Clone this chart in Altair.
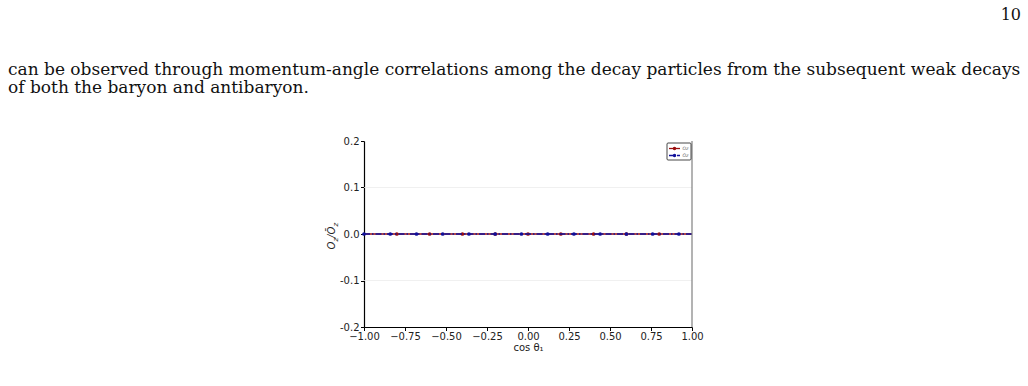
import altair as alt
import pandas as pd

# Page text around the figure
page_number = "10"
page_lines = [
    "can be observed through momentum-angle correlations among the decay particles from the subsequent weak decays",
    "of both the baryon and antibaryon.",
]

# Series: ratio O_z / O_z-bar versus cos(theta_1)
red_cos = [-1.0, -0.8, -0.6, -0.4, -0.2, 0.0, 0.2, 0.4, 0.6, 0.8, 1.0]
red_ratio = [0.0, 0.0, 0.0, 0.0, 0.0, 0.0, 0.0, 0.0, 0.0, 0.0, 0.0]
red_marked = [False, True, True, True, True, True, True, True, True, True, False]

blue_cos = [-1.0, -0.84, -0.68, -0.52, -0.36, -0.2, -0.04, 0.12, 0.28, 0.44, 0.6, 0.76, 0.92, 1.0]
blue_ratio = [0.0, 0.0, 0.0, 0.0, 0.0, 0.0, 0.0, 0.0, 0.0, 0.0, 0.0, 0.0, 0.0, 0.0]
blue_marked = [True, True, True, True, True, True, True, True, True, True, True, True, True, False]

x_ticks = [-1.0, -0.75, -0.5, -0.25, 0.0, 0.25, 0.5, 0.75, 1.0]
y_ticks = [-0.2, -0.1, 0.0, 0.1, 0.2]
grid_vals = [-0.1, 0.0, 0.1]
legend_labels = ["Oz", "Ōz"]

RED = "#9a0e0e"
BLUE = "#10109a"
W, H = 328, 186

red_df = pd.DataFrame({"c": red_cos, "r": red_ratio, "m": red_marked})
blue_df = pd.DataFrame({"c": blue_cos, "r": blue_ratio, "m": blue_marked})

xs = alt.Scale(domain=[-1, 1], nice=False)
ys = alt.Scale(domain=[-0.2, 0.2], nice=False)

x_axis = alt.Axis(
    values=x_ticks, format=".2f", title="cos θ₁", grid=False,
    domainColor="#000", domainWidth=1.2, tickColor="#000", tickSize=3.5,
    labelFont="DejaVu Sans", labelFontSize=10, labelColor="#222", labelPadding=1,
    labelFlush=False, titleFont="DejaVu Sans", titleFontSize=10,
    titleFontWeight="normal", titleColor="#222", titlePadding=1,
)
y_axis = alt.Axis(
    values=y_ticks, title=None, grid=False,
    labelExpr="replace(format(datum.value, '.1f'), '\u2212', '-')",
    domainColor="#000", domainWidth=1.2, tickColor="#000", tickSize=3.5,
    labelFont="DejaVu Sans", labelFontSize=10, labelColor="#222", labelPadding=1.5,
)

grid = alt.Chart(pd.DataFrame({"g": grid_vals})).mark_rule(
    color="#ececec", strokeWidth=0.8
).encode(y=alt.Y("g:Q", scale=ys, axis=y_axis))

red_line = alt.Chart(red_df).mark_line(color=RED, strokeWidth=1.4, clip=True).encode(
    x=alt.X("c:Q", scale=xs, axis=x_axis), y=alt.Y("r:Q", scale=ys, axis=y_axis)
)
red_pts = alt.Chart(red_df).transform_filter("datum.m").mark_point(
    shape="circle", filled=True, size=14, color=RED, opacity=1
).encode(x=alt.X("c:Q", scale=xs, axis=x_axis), y=alt.Y("r:Q", scale=ys, axis=y_axis))

blue_line = alt.Chart(blue_df).mark_line(
    color=BLUE, strokeWidth=1.4, strokeDash=[6, 2, 1.5, 2], clip=True
).encode(x=alt.X("c:Q", scale=xs, axis=x_axis), y=alt.Y("r:Q", scale=ys, axis=y_axis))
blue_pts = alt.Chart(blue_df).transform_filter("datum.m").mark_point(
    shape="circle", filled=True, size=14, color=BLUE, opacity=1
).encode(x=alt.X("c:Q", scale=xs, axis=x_axis), y=alt.Y("r:Q", scale=ys, axis=y_axis))

one = pd.DataFrame({"k": [0]})


def label(text, x, y, **style):
    """A single piece of text placed in pixel space around the plot area."""
    return alt.Chart(pd.DataFrame({"t": [text]})).mark_text(**style).encode(
        text="t:N", x=alt.value(x), y=alt.value(y)
    )


right_spine = alt.Chart(one).mark_rule(color="#808080", strokeWidth=1.2).encode(
    x=alt.value(W), y=alt.value(0), y2=alt.value(H)
)

# Legend box
leg_box = alt.Chart(one).mark_rect(
    fill="white", stroke="#333", strokeWidth=0.9, cornerRadius=1
).encode(x=alt.value(303), x2=alt.value(327), y=alt.value(2), y2=alt.value(19))
leg_red_line = alt.Chart(one).mark_rule(color=RED, strokeWidth=1.3).encode(
    x=alt.value(305), x2=alt.value(316), y=alt.value(7.5)
)
leg_blue_line = alt.Chart(one).mark_rule(
    color=BLUE, strokeWidth=1.3, strokeDash=[4, 1.5, 1, 1.5]
).encode(x=alt.value(305), x2=alt.value(316), y=alt.value(14.5))
leg_red_pt = alt.Chart(one).mark_point(shape="circle", filled=True, size=12, color=RED, opacity=1).encode(
    x=alt.value(310.5), y=alt.value(7.5)
)
leg_blue_pt = alt.Chart(one).mark_point(shape="circle", filled=True, size=12, color=BLUE, opacity=1).encode(
    x=alt.value(310.5), y=alt.value(14.5)
)
leg_style = dict(font="DejaVu Sans", fontSize=4.5, fontStyle="italic", color="#666",
                 align="left", baseline="middle")
leg_texts = [label(legend_labels[0], 318.5, 7.5, **leg_style),
             label(legend_labels[1], 318.5, 14.5, **leg_style)]

# Rotated y-axis title O_z / O-bar_z, built from pieces so the z's sit as subscripts
pieces = [("O", 10, 7.9, False), ("z", 7, 3.7, True), ("/", 10, 3.4, False),
          ("Ō", 10, 7.9, False), ("z", 7, 3.7, True)]
cursor = 108.5
ytitle = []
for txt, size, adv, sub in pieces:
    ytitle.append(label(txt, -26.5 if sub else -29.0, cursor, font="DejaVu Sans",
                        fontStyle="italic", fontSize=size, angle=270, align="left",
                        baseline="alphabetic", color="#222"))
    cursor -= adv

# Surrounding page text
body_style = dict(font="DejaVu Serif", fontSize=17, color="#111", align="left", baseline="alphabetic")
body = [label(page_lines[0], -356, -66, **body_style),
        label(page_lines[1], -356, -48, **body_style)]
pnum = label(page_number, 657, -121, font="DejaVu Serif", fontSize=16, color="#111",
             align="right", baseline="alphabetic")

chart = alt.layer(
    grid, red_line, red_pts, blue_line, blue_pts, right_spine,
    leg_box, leg_red_line, leg_blue_line, leg_red_pt, leg_blue_pt, *leg_texts,
    *ytitle, *body, pnum,
).properties(
    width=W, height=H,
    padding={"left": 364, "top": 141, "right": 336, "bottom": 59},
    autosize=alt.AutoSizeParams(type="none"),
    background="white",
).configure_view(stroke=None)

chart.save("out.html", embed_options={"renderer": "svg", "actions": False})
